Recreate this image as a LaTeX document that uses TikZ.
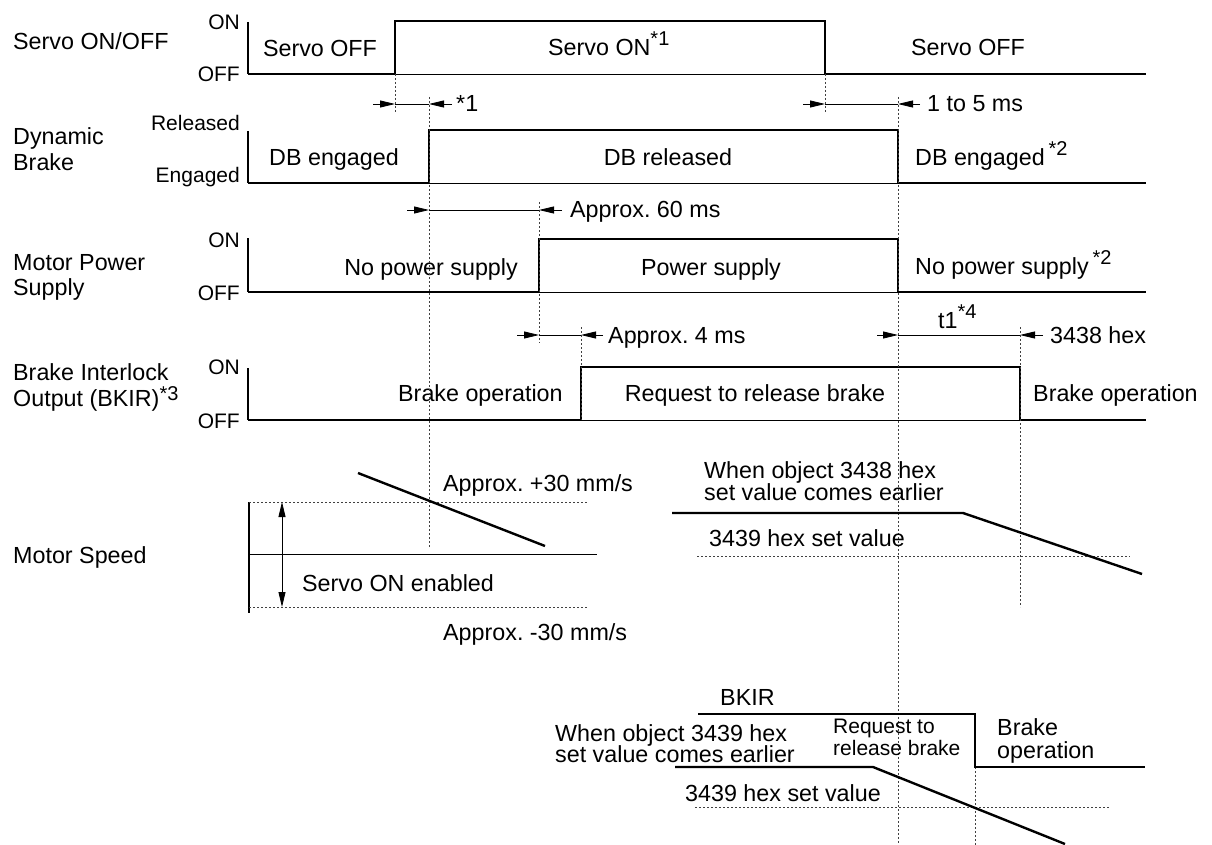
\documentclass[tikz,border=0pt]{standalone}
\usepackage{fontspec}
\setmainfont{Liberation Sans}
\usepackage{tikz}
\usetikzlibrary{arrows.meta}
\frenchspacing

\newcommand{\fnote}[2][10pt]{\raisebox{#1}{\fontsize{20}{20}\selectfont #2}}

\begin{document}
\begin{tikzpicture}[x=1pt, y=-1pt,
		every node/.style={inner sep=0pt, font=\fontsize{23.3}{26}\selectfont},
		axlbl/.style={anchor=base east, font=\fontsize{21}{24}\selectfont},
		wave/.style={line width=2.4pt, line join=miter},
		axis/.style={line width=1.1pt},
		base/.style={line width=0.9pt},
		guide/.style={line width=0.9pt, dash pattern=on 2pt off 2pt, black!75},
		dimline/.style={line width=0.8pt},
		dimarrow/.style={line width=0.8pt, -{Triangle[length=15pt,width=7pt]}}]
				\useasboundingbox (0,0) rectangle (1212,845);
				% Signal rows:
				\node[anchor=base west](N1) at (13,50){Servo ON/OFF};
				\node[axlbl](N2) at (240,30){ON};
				\node[axlbl](N3) at (240,82){OFF};
				\draw[axis] (248,22) -- (248,74);
				\draw[base] (248,74) -- (1146,74);
				\draw[wave] (248,74) -- (395,74) -- (395,21) -- (825,21) -- (825,74) -- (1146,74);
				\node[anchor=base](N4) at (320,57){Servo OFF};
				\node[anchor=base west](N5) at (548,56){Servo ON\fnote{*1}};
				\node[anchor=base](N6) at (968,56){Servo OFF};
				\node[anchor=base west](N7) at (13,145){Dynamic};
				\node[anchor=base west](N8) at (13,171){Brake};
				\node[axlbl](N9) at (240,131){Released};
				\node[axlbl](N10) at (240,183){Engaged};
				\draw[axis] (248,131) -- (248,183);
				\draw[base] (248,183) -- (1146,183);
				\draw[wave] (248,183) -- (429,183) -- (429,130) -- (898,130) -- (898,183) -- (1146,183);
				\node[anchor=base](N11) at (334,166){DB engaged};
				\node[anchor=base](N12) at (668,166){DB released};
				\node[anchor=base west](N13) at (915,166){DB engaged\,\fnote{*2}};
				\node[anchor=base west](N14) at (13,270){Motor Power};
				\node[anchor=base west](N15) at (13,295){Supply};
				\node[axlbl](N16) at (240,247){ON};
				\node[axlbl](N17) at (240,300){OFF};
				\draw[axis] (248,238) -- (248,292);
				\draw[base] (248,292) -- (1146,292);
				\draw[wave] (248,292) -- (539,292) -- (539,239) -- (898,239) -- (898,292) -- (1146,292);
				\node[anchor=base east](N18) at (518,275){No power supply};
				\node[anchor=base](N19) at (711,275){Power supply};
				\node[anchor=base west](N20) at (915,274){No power supply\,\fnote{*2}};
				\node[anchor=base west](N21) at (13,380){Brake Interlock};
				\node[anchor=base west](N22) at (13,406){Output (BKIR)\fnote[6pt]{*3}};
				\node[axlbl](N23) at (240,374){ON};
				\node[axlbl](N24) at (240,428){OFF};
				\draw[axis] (248,368) -- (248,420);
				\draw[base] (248,420) -- (1146,420);
				\draw[wave] (248,420) -- (581,420) -- (581,367) -- (1020,367) -- (1020,420) -- (1146,420);
				\node[anchor=base west](N25) at (398,401){Brake operation};
				\node[anchor=base](N26) at (755,401){Request to release brake};
				\node[anchor=base west](N27) at (1033,401){Brake operation};
				% Guides and timings:
				\draw[guide] (395,74) -- (395,112);
				\draw[guide] (825,74) -- (825,112);
				\draw[guide] (429,97) -- (429,548);
				\draw[guide] (539,202) -- (539,343);
				\draw[guide] (581,327) -- (581,420);
				\draw[guide] (898,97) -- (898,845);
				\draw[guide] (1020,327) -- (1020,607);
				\draw[guide] (975,767) -- (975,845);
				\draw[dimarrow] (373,104) -- (395,104);
				\draw[dimline] (395,104) -- (429,104);
				\draw[dimarrow] (452,104) -- (429,104);
				\node[anchor=base west](N28) at (456,112){*1};
				\draw[dimarrow] (803,104) -- (825,104);
				\draw[dimline] (825,104) -- (898,104);
				\draw[dimarrow] (920,104) -- (898,104);
				\node[anchor=base west](N29) at (927,112){1 to 5 ms};
				\draw[dimarrow] (407,210) -- (429,210);
				\draw[dimline] (429,210) -- (539,210);
				\draw[dimarrow] (562,210) -- (539,210);
				\node[anchor=base west](N30) at (570,218){Approx. 60 ms};
				\draw[dimarrow] (517,335) -- (539,335);
				\draw[dimline] (539,335) -- (581,335);
				\draw[dimarrow] (603,335) -- (581,335);
				\node[anchor=base west](N31) at (608,343){Approx. 4 ms};
				\draw[dimarrow] (877,335) -- (898,335);
				\draw[dimline] (898,335) -- (1020,335);
				\draw[dimarrow] (1043,335) -- (1020,335);
				\node[anchor=base west](N32) at (938,328){t1\fnote{*4}};
				\node[anchor=base west](N33) at (1050,343){3438 hex};
				% Motor speed:
				\node[anchor=base west](N34) at (13,563){Motor Speed};
				\draw[axis] (249,502) -- (249,613);
				\draw[base] (249,554) -- (597,554);
				\draw[guide] (249,502) -- (587,502);
				\draw[guide] (249,607) -- (587,607);
				\draw[dimline, {Triangle[length=15pt,width=7pt]}-{Triangle[length=15pt,width=7pt]}] (282,502) -- (282,607);
				\draw[wave] (358,473) -- (545,546);
				\node[anchor=base west](N35) at (443,491){Approx. +30 mm/s};
				\node[anchor=base west](N36) at (302,591){Servo ON enabled};
				\node[anchor=base west](N37) at (443,640){Approx. -30 mm/s};
				\draw[guide] (697,556) -- (1130,556);
				\draw[wave] (672,513) -- (963,513) -- (1142,574);
				\node[anchor=base west](N38) at (704,478){When object 3438 hex};
				\node[anchor=base west](N39) at (704,500){set value comes earlier};
				\node[anchor=base west](N40) at (709,546){3439 hex set value};
				\draw[wave] (698,714) -- (975,714) -- (975,767) -- (1145,767);
				\draw[guide] (695,807) -- (1110,807);
				\draw[wave] (675,767) -- (873,767) -- (1065,844);
				\node[anchor=base west](N41) at (720,705){BKIR};
				\node[anchor=base west](N42) at (555,741){When object 3439 hex};
				\node[anchor=base west](N43) at (555,762){set value comes earlier};
				\node[anchor=base west](N44) at (685,801){3439 hex set value};
				\node[anchor=base west, font=\fontsize{21}{24}\selectfont](N45) at (833,733){Request to};
				\node[anchor=base west, font=\fontsize{21}{24}\selectfont](N46) at (833,755){release brake};
				\node[anchor=base west](N47) at (997,735){Brake};
				\node[anchor=base west](N48) at (997,758){operation};
			\end{tikzpicture}
\end{document}
